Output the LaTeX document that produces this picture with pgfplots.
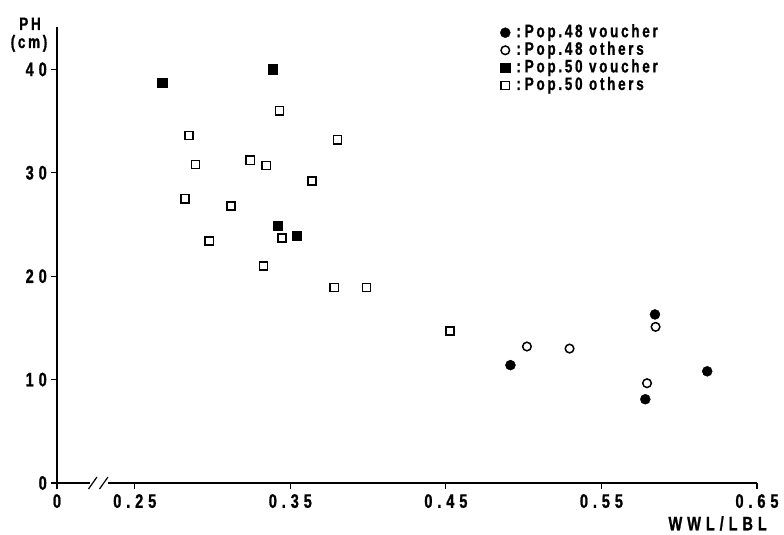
\documentclass[border=0pt]{standalone}
\usepackage{fontspec}
\setmainfont{Liberation Sans}
\newfontfamily\labfont{Liberation Sans}[LetterSpace=25, FakeStretch=0.75, FakeBold=1]
\newfontfamily\legfont{Liberation Sans}[LetterSpace=15, FakeStretch=0.75, FakeBold=1]
\usepackage{pgfplots}
\pgfplotsset{compat=1.18}
\newcommand{\tickf}{\labfont\bfseries\fontsize{19.5}{21}\selectfont}
\newcommand{\legf}{\legfont\bfseries\fontsize{18}{20}\selectfont}
\begin{document}
\begin{tikzpicture}
\path[use as bounding box] (-57pt,-52pt) rectangle (727pt,483pt);
\begin{axis}[
  at={(0pt,0pt)}, anchor=south west,
  scale only axis, width=700pt, height=456pt,
  xmin=0.2, xmax=0.65, ymin=0, ymax=44.1,
  axis lines=left,
  axis line style={-, line width=1.2pt},
  clip=false,
  xtick={0.2,0.25,0.35,0.45,0.55,0.65},
  xticklabels={0,0.25,0.35,0.45,0.55,0.65},
  ytick={0,10,20,30,40},
  yticklabels={0,10,20,30,40},
  tick align=outside,
  major tick length=6pt,
  tick style={line width=1.2pt, black},
  ticklabel style={font=\tickf, inner sep=4pt},
  xticklabel style={yshift=-1pt},
  /pgf/number format/assume math mode=true,
  legend style={at={(rel axis cs:0.633,1.0066)}, anchor=north west,
    draw=none, fill=none, inner sep=0pt, font=\legf, row sep=0.6pt,
    nodes={inner sep=0pt, text depth=4pt, text height=13pt},
    /tikz/every odd column/.append style={column sep=6pt}},
  legend cell align=left,
  legend image code/.code={\draw plot coordinates {(0pt,0pt)};},
]
% Pop.48 voucher
\addplot[only marks, mark=*, mark size=5pt, black, mark options={fill=black}] coordinates {
 (0.4915,11.4) (0.5844,16.3) (0.618,10.8) (0.5782,8.1)
};
\addlegendentry{:\hspace{4pt}Pop.48 voucher}
% Pop.48 others
\addplot[only marks, mark=o, mark size=4.3pt, black, mark options={line width=1.5pt}] coordinates {
 (0.5021,13.2) (0.5295,13.0) (0.5848,15.1) (0.5793,9.65)
};
\addlegendentry{:\hspace{4pt}Pop.48 others}
% Pop.50 voucher
\addplot[only marks, mark=square*, mark size=4.8pt, black, mark options={fill=black}] coordinates {
 (0.2678,38.7) (0.3387,40.0) (0.3419,24.9) (0.354,23.9)
};
\addlegendentry{:\hspace{4pt}Pop.50 voucher}
% Pop.50 others
\addplot[only marks, mark=square, mark size=4.1pt, black, mark options={line width=1.6pt}] coordinates {
 (0.343,36.0) (0.2848,33.6) (0.3803,33.2) (0.289,30.8) (0.3242,31.2)
 (0.3346,30.7) (0.3639,29.2) (0.2823,27.5) (0.3118,26.8) (0.3447,23.7)
 (0.2979,23.4) (0.3327,21.0) (0.3782,18.9) (0.3989,18.9) (0.4526,14.7)
};
\addlegendentry{:\hspace{4pt}Pop.50 others}
\node[font=\legf, inner sep=0pt, anchor=base] at ([xshift=-27pt,yshift=-3pt]rel axis cs:0,1) {PH};
\node[font=\legf, inner sep=0pt, anchor=base] at ([xshift=-28pt,yshift=-21pt]rel axis cs:0,1) {(cm)};
\node[font=\tickf, inner sep=0pt, anchor=north east] at ([xshift=10pt,yshift=-33pt]rel axis cs:1,0) {WWL/LBL};
\end{axis}
% axis break
\fill[white] (33pt,-2pt) rectangle (51pt,2pt);
\draw[line width=1.2pt] (31.5pt,-6pt) -- (40pt,6pt);
\draw[line width=1.2pt] (42.5pt,-6pt) -- (51pt,6pt);
\end{tikzpicture}
\end{document}
